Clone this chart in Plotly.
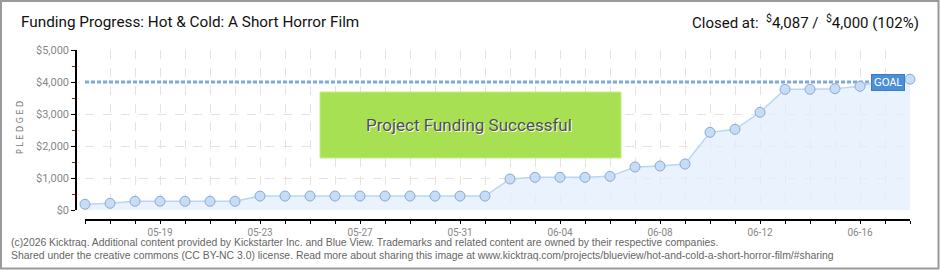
import plotly.graph_objects as go

# ---- data ----
dates = [
    "2025-05-16", "2025-05-17", "2025-05-18", "2025-05-19", "2025-05-20", "2025-05-21",
    "2025-05-22", "2025-05-23", "2025-05-24", "2025-05-25", "2025-05-26", "2025-05-27",
    "2025-05-28", "2025-05-29", "2025-05-30", "2025-05-31", "2025-06-01", "2025-06-02",
    "2025-06-03", "2025-06-04", "2025-06-05", "2025-06-06", "2025-06-07", "2025-06-08",
    "2025-06-09", "2025-06-10", "2025-06-11", "2025-06-12", "2025-06-13", "2025-06-14",
    "2025-06-15", "2025-06-16", "2025-06-17", "2025-06-18",
]
pledged = [
    178, 209, 272, 272, 272, 272,
    272, 437, 437, 437, 437, 437,
    437, 437, 437, 437, 437, 969,
    1021, 1021, 1021, 1052, 1344, 1375,
    1437, 2427, 2521, 3053, 3771, 3771,
    3791, 3865, 4080, 4087,
]
goal = 4000
goal_x = [dates[0], dates[-1]]
goal_y = [goal, goal]

title_text = "Funding Progress: Hot &amp; Cold: A Short Horror Film"
status_text = "Closed at:  <sup>$</sup>4,087 /  <sup>$</sup>4,000 (102%)"
banner_text = "Project Funding Successful"
footer1 = ("(c)2026 Kicktraq. Additional content provided by Kickstarter Inc. and Blue View. "
           "Trademarks and related content are owned by their respective companies.")
footer2 = ("Shared under the creative commons (CC BY-NC 3.0) license. Read more about sharing this "
           "image at www.kicktraq.com/projects/blueview/hot-and-cold-a-short-horror-film/#sharing")

# ---- geometry (pixels) ----
W, H = 940, 270
ML, MR, MT, MB = 76, 30, 50, 50
PW, PH = W - ML - MR, H - MT - MB


def px(x):
    return (x - ML) / PW


def py(y):
    return (H - MB - y) / PH


fig = go.Figure()

fig.add_trace(go.Scatter(
    x=goal_x, y=goal_y, mode="lines",
    line=dict(color="#7ea9dd", width=3, dash="4px,2px"),
    hoverinfo="skip", showlegend=False,
))

fig.add_trace(go.Scatter(
    x=dates, y=pledged, mode="lines+markers",
    fill="tozeroy", fillcolor="rgba(226,238,252,0.75)",
    line=dict(color="#b9d6f3", width=1.5),
    marker=dict(size=10, color="#c5ddf7", line=dict(color="#8fa9cc", width=1)),
    cliponaxis=False, showlegend=False,
))

grid_col = "#e3e3e3"
fig.update_layout(
    width=W, height=H,
    margin=dict(l=ML, r=MR, t=MT, b=MB),
    paper_bgcolor="white", plot_bgcolor="white",
    showlegend=False,
    font=dict(family="Roboto", color="#777"),
    xaxis=dict(
        domain=[9 / PW, 1], anchor="free", position=0,
        type="date", range=[dates[0], dates[-1]],
        tick0="2025-05-19", dtick=4 * 86400000, tickformat="%m-%d",
        ticks="outside", ticklen=3, tickcolor="black", tickwidth=1,
        showline=True, linecolor="black", linewidth=1.5,
        showgrid=True, gridcolor=grid_col, griddash="dash", gridwidth=1,
        tickfont=dict(size=10, color="#888", family="Roboto"),
        minor=dict(dtick=86400000, ticks="outside", ticklen=3, tickcolor="black",
                   showgrid=True, gridcolor=grid_col, griddash="dash"),
        zeroline=False, fixedrange=True,
    ),
    yaxis=dict(
        domain=[10 / PH, 1], anchor="free", position=0,
        range=[0, 5000], dtick=1000, tickprefix="$", tickformat=",",
        ticks="outside", ticklen=4, tickcolor="black", tickwidth=1,
        showline=True, linecolor="black", linewidth=1.5,
        showgrid=True, gridcolor=grid_col, griddash="dash",
        tickfont=dict(size=11, color="#888", family="Roboto"),
        minor=dict(dtick=500, ticks="outside", ticklen=3, tickcolor="#e00000", showgrid=False),
        zeroline=False, fixedrange=True,
    ),
)

shapes = [
    # outer border
    dict(type="rect", xref="paper", yref="paper",
         x0=px(1), x1=px(938.5), y0=py(268.5), y1=py(1),
         line=dict(color="#9a9a9a", width=2), fillcolor="rgba(0,0,0,0)", layer="above"),
    # success banner
    dict(type="rect", xref="paper", yref="paper",
         x0=px(320), x1=px(621), y0=py(158), y1=py(92),
         line=dict(color="#c4ee88", width=1), fillcolor="#a7e052", layer="above"),
]
fig.update_layout(shapes=shapes)

ann = [
    dict(text=title_text, xref="paper", yref="paper", x=px(19), y=py(22),
         xanchor="left", yanchor="middle", showarrow=False,
         font=dict(size=15.3, color="#111", family="Roboto")),
    dict(text=status_text, xref="paper", yref="paper", x=px(921), y=py(22),
         xanchor="right", yanchor="middle", showarrow=False,
         font=dict(size=15, color="#111", family="Roboto")),
    dict(text="P L E D G E D", xref="paper", yref="paper", x=px(20), y=py(128),
         xanchor="center", yanchor="middle", textangle=-90, showarrow=False,
         font=dict(size=8, color="#777", family="DejaVu Sans")),
    dict(text="GOAL", x=dates[-1], y=goal, xref="x", yref="y",
         xanchor="right", yanchor="middle", xshift=-5, showarrow=False,
         bgcolor="#4a8fd8", bordercolor="#3b7cc6", borderwidth=1, borderpad=2,
         font=dict(size=10, color="white", family="DejaVu Sans")),
    dict(text=banner_text, xref="paper", yref="paper", x=px(469.5), y=py(126),
         xanchor="center", yanchor="middle", showarrow=False,
         font=dict(size=17, color="#ffffff", family="Roboto")),
    dict(text=banner_text, xref="paper", yref="paper", x=px(468.5), y=py(125),
         xanchor="center", yanchor="middle", showarrow=False,
         font=dict(size=17, color="#505050", family="Roboto")),
    dict(text=footer1, xref="paper", yref="paper", x=px(9), y=py(242),
         xanchor="left", yanchor="middle", showarrow=False,
         font=dict(size=10.4, color="#666", family="Liberation Sans")),
    dict(text=footer2, xref="paper", yref="paper", x=px(9), y=py(256),
         xanchor="left", yanchor="middle", showarrow=False,
         font=dict(size=10.4, color="#666", family="Liberation Sans")),
]
fig.update_layout(annotations=ann)

fig.write_html("out.html")
